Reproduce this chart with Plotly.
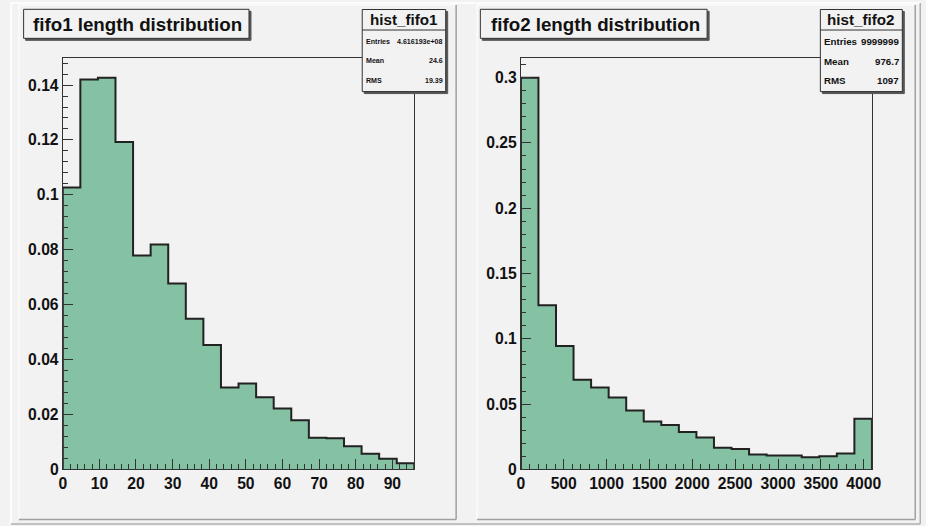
import numpy as np
import plotly.graph_objects as go

W, H = 926, 526
# the page screenshot comes out slightly shrunk/shifted; positions below are target pixels
SX, SY = 0.990, 0.984
OX, OY = 2.0, 0.0

# ---------------- data ----------------
fifo1_range = [0, 96]
fifo1_values = [0.1027, 0.1420, 0.1427, 0.1193, 0.0779, 0.0819, 0.0677, 0.0549,
                0.0453, 0.0298, 0.0313, 0.0263, 0.0222, 0.0179, 0.0115, 0.0113,
                0.0084, 0.0057, 0.0039, 0.0022]
fifo2_range = [0, 4096]
fifo2_values = [0.3000, 0.1256, 0.0944, 0.0686, 0.0627, 0.0551, 0.0451, 0.0367,
                0.0339, 0.0287, 0.0244, 0.0165, 0.0157, 0.0114, 0.0106, 0.0106,
                0.0093, 0.0101, 0.0122, 0.0387]

fifo1_xticks = [0, 10, 20, 30, 40, 50, 60, 70, 80, 90]
fifo1_xtext = ["0", "10", "20", "30", "40", "50", "60", "70", "80", "90"]
fifo1_yticks = [0, 0.02, 0.04, 0.06, 0.08, 0.1, 0.12, 0.14]
fifo1_ytext = ["0", "0.02", "0.04", "0.06", "0.08", "0.1", "0.12", "0.14"]
fifo2_xticks = [0, 500, 1000, 1500, 2000, 2500, 3000, 3500, 4000]
fifo2_xtext = ["0", "500", "1000", "1500", "2000", "2500", "3000", "3500", "4000"]
fifo2_yticks = [0, 0.05, 0.1, 0.15, 0.2, 0.25, 0.3]
fifo2_ytext = ["0", "0.05", "0.1", "0.15", "0.2", "0.25", "0.3"]

titles = ["fifo1 length distribution", "fifo2 length distribution"]
stat_names = ["hist_fifo1", "hist_fifo2"]
stat_labels = ["Entries", "Mean", "RMS"]
stat_values = [["4.616193e+08", "24.6", "19.39"],
               ["9999999", "976.7", "1097"]]

# ---------------- style ----------------
FILL = "#85c2a3"
BG = "#f2f2f2"
LINE = "#222222"
FONT = "Liberation Sans"
FS = 1 / ((SX + SY) / 2)

def px(x):
    return ((x - OX) / SX) / W

def py(y):
    return 1 - ((y - OY) / SY) / H

fig = go.Figure()

panels = [
    dict(vals=fifo1_values, rng=fifo1_range, xt=fifo1_xticks, xtt=fifo1_xtext,
         yt=fifo1_yticks, ytt=fifo1_ytext, xminor=2, yminor=0.004,
         x0=61, x1=414, ax="x", ay="y"),
    dict(vals=fifo2_values, rng=fifo2_range, xt=fifo2_xticks, xtt=fifo2_xtext,
         yt=fifo2_yticks, ytt=fifo2_ytext, xminor=100, yminor=0.01,
         x0=521, x1=873.5, ax="x2", ay="y2"),
]
PY_TOP, PY_BOT = 58, 469

for i, p in enumerate(panels):
    vals = np.array(p["vals"])
    n = len(vals)
    edges = np.linspace(p["rng"][0], p["rng"][1], n + 1)
    centers = 0.5 * (edges[:-1] + edges[1:])
    width = edges[1] - edges[0]
    fig.add_trace(go.Bar(x=centers, y=vals, width=width, marker=dict(color=FILL, line=dict(width=0)),
                         xaxis=p["ax"], yaxis=p["ay"], showlegend=False, hoverinfo="skip"))
    sx = np.concatenate([[edges[0]], edges, [edges[-1]]])
    sy = np.concatenate([[0], vals, [vals[-1]], [0]])
    fig.add_trace(go.Scatter(x=sx, y=sy, mode="lines", line=dict(color=LINE, width=2, shape="hv"),
                             xaxis=p["ax"], yaxis=p["ay"], showlegend=False, hoverinfo="skip"))
    ymax = float(vals.max()) * 1.05
    axfont = dict(family=FONT, size=15.5 * FS, color="#111", weight="bold")
    common = dict(tickmode="array", ticks="inside", ticklen=10 * FS, tickwidth=1,
                  tickcolor="#333", showline=True, linecolor="#333", linewidth=1, mirror=True,
                  showgrid=False, zeroline=False, tickfont=axfont)
    xa = dict(domain=[px(p["x0"]), px(p["x1"])], range=p["rng"],
              tickvals=p["xt"], ticktext=p["xtt"],
              minor=dict(dtick=p["xminor"], tick0=0, ticks="inside", ticklen=5 * FS, tickcolor="#333"),
              anchor=p["ay"], **common)
    ya = dict(domain=[py(PY_BOT), py(PY_TOP)], range=[0, ymax],
              tickvals=p["yt"], ticktext=p["ytt"],
              minor=dict(dtick=p["yminor"], tick0=0, ticks="inside", ticklen=5 * FS, tickcolor="#333"),
              anchor=p["ax"], **common)
    key = "" if i == 0 else "2"
    fig.update_layout(**{"xaxis" + key: xa, "yaxis" + key: ya})

shapes = []
annotations = []

def rect(x0, y0, x1, y1, fill=None, color="#333", width=1):
    shapes.append(dict(type="rect", xref="paper", yref="paper", x0=px(x0), x1=px(x1),
                       y0=py(y1), y1=py(y0), fillcolor=fill if fill else "rgba(0,0,0,0)",
                       line=dict(color=color, width=width), layer="above"))

def line(x0, y0, x1, y1, color="#333", width=1):
    shapes.append(dict(type="line", xref="paper", yref="paper", x0=px(x0), x1=px(x1),
                       y0=py(y0), y1=py(y1), line=dict(color=color, width=width), layer="above"))

def text(x, y, s, size, xanchor="left", weight="bold"):
    annotations.append(dict(xref="paper", yref="paper", x=px(x), y=py(y), text=s, showarrow=False,
                            xanchor=xanchor, yanchor="middle", borderpad=0,
                            font=dict(family=FONT, size=size * FS, color="#111", weight=weight)))

# canvas border
line(9, 3, 9, 523, color="#ffffff", width=1.5)
line(9, 3, 922, 3, color="#ffffff", width=1.5)
line(9, 523.5, 922, 523.5, color="#b0b0b0", width=1.5)
line(922, 3, 922, 523.5, color="#b0b0b0", width=1.5)

# pad borders
pads = [(17, 5, 456, 519), (477, 5, 917, 519)]
for (a, b, c, d) in pads:
    line(a, b, c, b, color="#ffffff", width=1)
    line(a, b, a, d, color="#ffffff", width=1)
    line(a, d, c, d, color="#a0a0a0", width=1.5)
    line(c, b, c, d, color="#a0a0a0", width=1.5)

# title boxes
title_boxes = [(21.7, 9.3, 248, 38.3, 30), (480.3, 9.3, 708, 38.3, 489.7)]
for k, (a, b, c, d, tx) in enumerate(title_boxes):
    rect(a + 2, b + 2, c + 2, d + 2, fill="#555555", color="#555555")
    rect(a, b, c, d, fill=BG, color="#333")
    text(tx, (b + d) / 2 + 0.5, titles[k], 18.5)

# stats boxes
stat_boxes = [(361.7, 9.5, 445.5, 91.5, 7), (821.7, 9.5, 904, 91.5, 9.6)]
for k, (a, b, c, d, fs) in enumerate(stat_boxes):
    rect(a + 2, b + 2, c + 2, d + 2, fill="#555555", color="#555555")
    rect(a, b, c, d, fill=BG, color="#333")
    line(a, 30, c, 30, color="#333")
    text((a + c) / 2, 19.5, stat_names[k], 15, xanchor="center")
    for j, lab in enumerate(stat_labels):
        yy = 41.5 + j * 19.5
        text(a + 2.5, yy, lab, fs)
        text(c - 2, yy, stat_values[k][j], fs, xanchor="right")

fig.update_layout(width=W, height=H, margin=dict(l=0, r=0, t=0, b=0),
                  paper_bgcolor=BG, plot_bgcolor=BG, shapes=shapes, annotations=annotations,
                  bargap=0, showlegend=False)

fig.write_html("out.html")
